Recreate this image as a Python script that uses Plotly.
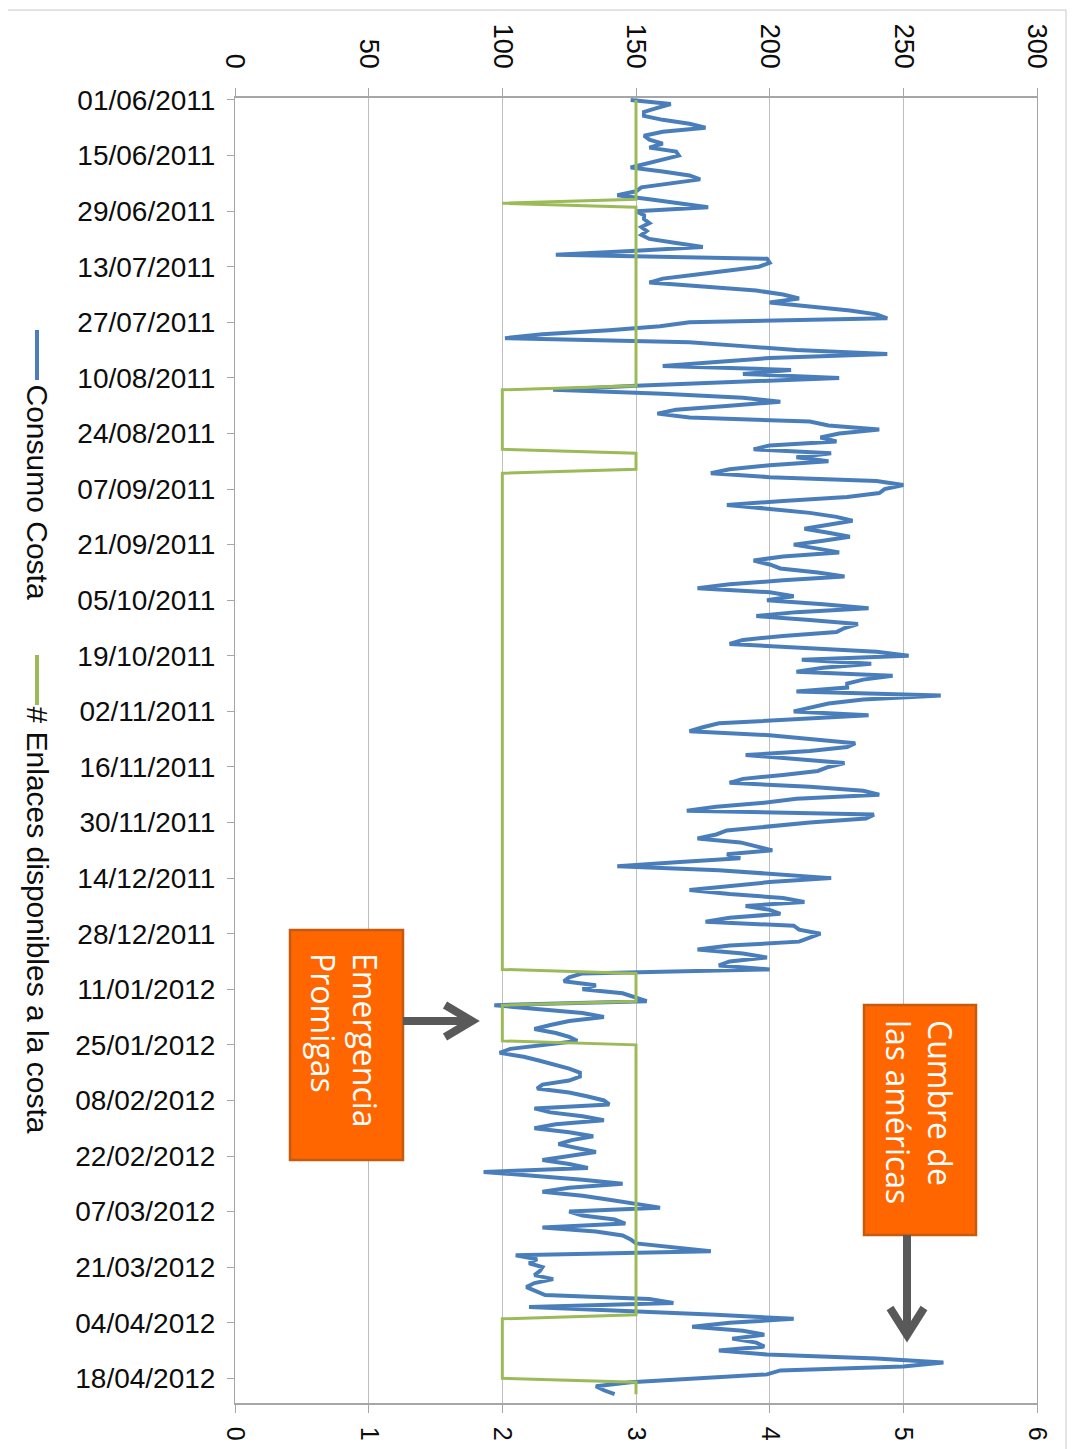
import plotly.graph_objects as go
import pandas as pd

# ---------------- data ----------------
start_date = "2011-06-01"
consumo_costa = [
    148,163,158,153,153,160,170,176,160,153, 155,160,155,165,166,160,155,148,160,170,
    174,163,152,150,143,155,165,177,150,153, 153,155,152,154,152,155,165,175,150,120,
    199,200,196,185,172,160,155,175,195,205, 211,200,215,230,240,244,170,159,140,115,
    101,170,190,210,244,200,180,160,208,190, 226,185,150,119,160,190,204,185,165,158,
    170,215,222,241,226,219,225,200,194,223, 210,222,200,185,178,200,240,250,243,241,
    229,205,184,200,215,225,231,222,213,222, 230,220,209,218,226,205,194,200,204,218,
    228,205,185,173,200,209,199,220,237,210, 195,215,233,228,225,205,190,185,215,240,
    252,212,238,220,210,246,235,229,229,210, 264,235,222,215,209,237,210,181,175,170,
    200,215,232,229,215,191,210,228,222,218, 205,190,185,215,235,241,210,198,180,169,
    239,236,215,200,184,180,173,189,195,201, 184,189,165,143,181,205,223,200,185,170,
    185,205,213,191,200,204,185,176,209,211, 219,215,211,185,173,190,199,185,181,200,
    130,125,123,135,130,145,149,154,97,115, 130,138,125,118,112,120,125,128,115,103,
    99,108,114,120,125,129,129,125,115,113, 125,132,138,140,112,118,130,138,120,112,
    125,134,126,121,128,135,125,115,125,132, 93,114,130,145,125,115,130,140,150,159,
    125,130,142,146,115,135,145,148,150,165, 178,105,113,110,115,114,112,119,112,109,
    113,116,155,164,110,150,180,209,185,171, 190,198,186,195,198,181,199,240,265,250,
    204,199,170,148,135,138,142,
]
enlaces_costa = [
    3,3,3,3,3,3,3,3,3,3, 3,3,3,3,3,3,3,3,3,3, 3,3,3,3,3,3,2,3,3,3,
    3,3,3,3,3,3,3,3,3,3, 3,3,3,3,3,3,3,3,3,3, 3,3,3,3,3,3,3,3,3,3,
    3,3,3,3,3,3,3,3,3,3, 3,3,3,2,2,2,2,2,2,2, 2,2,2,2,2,2,2,2,2,3,
    3,3,3,3,2,2,2,2,2,2, 2,2,2,2,2,2,2,2,2,2, 2,2,2,2,2,2,2,2,2,2,
    2,2,2,2,2,2,2,2,2,2, 2,2,2,2,2,2,2,2,2,2, 2,2,2,2,2,2,2,2,2,2,
    2,2,2,2,2,2,2,2,2,2, 2,2,2,2,2,2,2,2,2,2, 2,2,2,2,2,2,2,2,2,2,
    2,2,2,2,2,2,2,2,2,2, 2,2,2,2,2,2,2,2,2,2, 2,2,2,2,2,2,2,2,2,2,
    2,2,2,2,2,2,2,2,2,2, 3,3,3,3,3,3,3,3,2,2, 2,2,2,2,2,2,2,2,3,3,
    3,3,3,3,3,3,3,3,3,3, 3,3,3,3,3,3,3,3,3,3, 3,3,3,3,3,3,3,3,3,3,
    3,3,3,3,3,3,3,3,3,3, 3,3,3,3,3,3,3,3,3,3, 3,3,3,3,3,3,3,3,3,3,
    3,3,3,3,3,3,3,2,2,2, 2,2,2,2,2,2,2,2,2,2, 2,2,2,3,3,3,3,
]
date_ticks = ["01/06/2011","15/06/2011","29/06/2011","13/07/2011","27/07/2011",
              "10/08/2011","24/08/2011","07/09/2011","21/09/2011","05/10/2011",
              "19/10/2011","02/11/2011","16/11/2011","30/11/2011","14/12/2011",
              "28/12/2011","11/01/2012","25/01/2012","08/02/2012","22/02/2012",
              "07/03/2012","21/03/2012","04/04/2012","18/04/2012"]
consumo_ticks = [0, 50, 100, 150, 200, 250, 300]
enlaces_ticks = [0, 1, 2, 3, 4, 5, 6]
series_names = ["Consumo Costa", "# Enlaces disponibles a la costa"]
notes = ["Emergencia<br>Promigas", "Cumbre de<br>las américas"]

dates = pd.date_range(start_date, periods=len(consumo_costa), freq="D")
tick_dates = pd.to_datetime(date_ticks, format="%d/%m/%Y")

BLUE = "#4A7EBB"
GREEN = "#9BBB59"
GRID = "#BFBFBF"
ORANGE = "#FF6600"
ORANGE_EDGE = "#C55A11"
ARROW = "#595959"
FONT = "Liberation Sans"
TXT = "#0d0d0d"

# page offset (browser body margin) and plot area in screen pixels
OFF = 8
SL, SR, ST, SB = 235, 1037, 98, 1403
W, H = 1076, 1449
def px(x):
    return (x - SL) / (SR - SL)
def py(y):
    return (SB - y) / (SB - ST)

fig = go.Figure()
fig.add_trace(go.Scatter(x=consumo_costa, y=dates, mode="lines", name=series_names[0],
                         line=dict(color=BLUE, width=4), xaxis="x", yaxis="y"))
fig.add_trace(go.Scatter(x=enlaces_costa, y=dates, mode="lines", name=series_names[1],
                         line=dict(color=GREEN, width=3), xaxis="x2", yaxis="y"))

shapes = []
annotations = []

# outer frame
shapes.append(dict(type="rect", xref="paper", yref="paper",
                   x0=px(1), x1=px(1066), y0=py(1470), y1=py(10),
                   line=dict(color="#C8C8C8", width=1), layer="below"))

# legend (rotated)
shapes.append(dict(type="line", xref="paper", yref="paper",
                   x0=px(37), x1=px(37), y0=py(330), y1=py(380),
                   line=dict(color=BLUE, width=4)))
shapes.append(dict(type="line", xref="paper", yref="paper",
                   x0=px(37), x1=px(37), y0=py(655), y1=py(705),
                   line=dict(color=GREEN, width=4)))
annotations.append(dict(text=series_names[0], xref="paper", yref="paper",
                        x=px(37), y=py(382), xanchor="center", yanchor="top",
                        textangle=90, showarrow=False,
                        font=dict(family=FONT, size=30, color=TXT)))
annotations.append(dict(text=series_names[1], xref="paper", yref="paper",
                        x=px(37), y=py(704), xanchor="center", yanchor="top",
                        textangle=90, showarrow=False,
                        font=dict(family=FONT, size=30, color=TXT)))

# note boxes
boxes = [(290, 403, 930, 1160, 345, 1040), (864, 976, 1005, 1235, 920, 1112)]
for (x0, x1, y0, y1, cx, cy), txt in zip(boxes, notes):
    shapes.append(dict(type="rect", xref="paper", yref="paper",
                       x0=px(x0), x1=px(x1), y0=py(y1), y1=py(y0),
                       fillcolor=ORANGE, line=dict(color=ORANGE_EDGE, width=2.5)))
    annotations.append(dict(text=txt, xref="paper", yref="paper", x=px(cx), y=py(cy),
                            xanchor="center", yanchor="middle", textangle=90,
                            align="left", showarrow=False,
                            font=dict(family="Open Sans", size=32, color="white")))

# arrows
def seg_path(pts):
    return "M " + " L ".join(f"{px(a)},{py(b)}" for a, b in pts)
shapes.append(dict(type="path", xref="paper", yref="paper",
                   path=seg_path([(403, 1021), (470, 1021)]),
                   line=dict(color=ARROW, width=8)))
shapes.append(dict(type="path", xref="paper", yref="paper",
                   path=seg_path([(445, 1005), (472, 1021), (445, 1037)]),
                   line=dict(color=ARROW, width=8)))
shapes.append(dict(type="path", xref="paper", yref="paper",
                   path=seg_path([(907, 1235), (907, 1333)]),
                   line=dict(color=ARROW, width=8)))
shapes.append(dict(type="path", xref="paper", yref="paper",
                   path=seg_path([(890, 1308), (907, 1335), (924, 1308)]),
                   line=dict(color=ARROW, width=8)))

fig.update_layout(
    width=W, height=H,
    margin=dict(l=SL - OFF, r=W - (SR - OFF), t=ST - OFF, b=H - (SB - OFF)),
    plot_bgcolor="white", paper_bgcolor="white",
    showlegend=False,
    font=dict(family=FONT, color=TXT),
    xaxis=dict(range=[0, 300], side="top", tickvals=consumo_ticks, tickangle=90,
               showgrid=True, gridcolor=GRID, gridwidth=1, zeroline=False,
               showline=True, linecolor="#A6A6A6", linewidth=1.5,
               ticks="outside", ticklen=8, tickcolor="#A6A6A6",
               ticklabelstandoff=10,
               tickfont=dict(family=FONT, size=27, color=TXT)),
    xaxis2=dict(range=[0, 6], overlaying="x", side="bottom", tickvals=enlaces_ticks,
                tickangle=90, showgrid=False, zeroline=False,
                showline=True, linecolor="#A6A6A6", linewidth=1.5,
                ticks="outside", ticklen=8, tickcolor="#A6A6A6",
                ticklabelstandoff=9,
                tickfont=dict(family=FONT, size=25, color=TXT)),
    yaxis=dict(type="date", range=["2012-04-24 05:00", "2011-05-31 12:00"],
               tickvals=tick_dates, ticktext=date_ticks, showgrid=False,
               zeroline=False, showline=True, mirror=True, linecolor="#A6A6A6",
               linewidth=1, ticks="outside", ticklen=7, tickcolor="#A6A6A6",
               ticklabelstandoff=6,
               tickfont=dict(family=FONT, size=28, color=TXT)),
    shapes=shapes,
    annotations=annotations,
)

fig.write_html("out.html")
